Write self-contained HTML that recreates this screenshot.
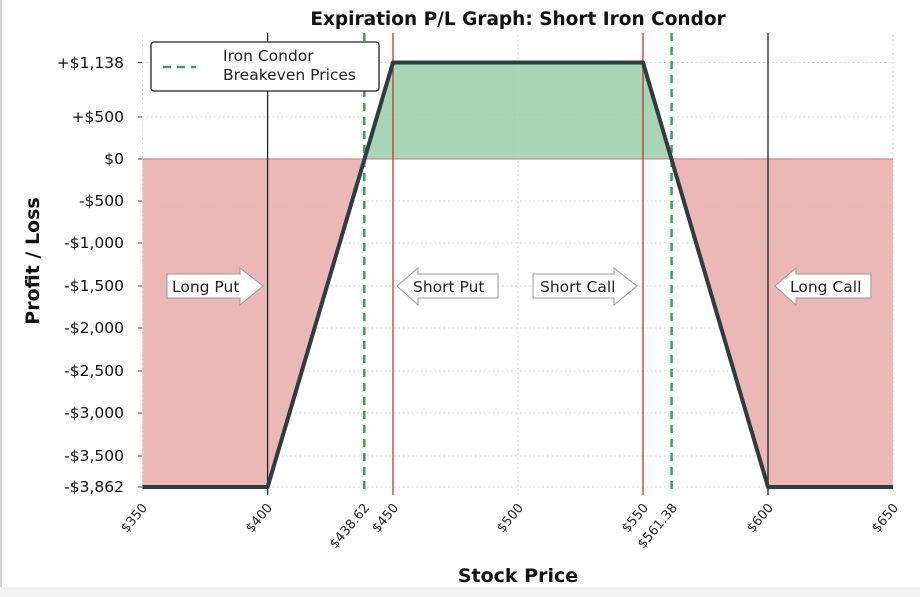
<!DOCTYPE html>
<html><head><meta charset="utf-8"><style>
body{margin:0;background:#fff;}
svg{display:block;font-family:"DejaVu Sans","Liberation Sans",sans-serif;}
</style></head><body>
<svg width="920" height="597" viewBox="0 0 920 597" xmlns="http://www.w3.org/2000/svg">
<rect width="920" height="597" fill="#fff"/>
<rect x="0" y="587" width="920" height="10" fill="#f3f3f3"/>
<line x1="1" y1="0" x2="1" y2="587" stroke="#aaa" stroke-width="1"/>
<polygon points="142.5,159 364.3,159 267.6,487 142.5,487" fill="#ebb8b6"/>
<polygon points="671.6,159 893,159 893,487 768,487" fill="#ebb8b6"/>
<polygon points="364.3,159 393,62.5 643,62.5 671.6,159" fill="#a8d5b5"/>
<g stroke="#ccc" stroke-width="1" stroke-dasharray="1.5,3">
<line x1="142" y1="62.5" x2="893" y2="62.5"/><line x1="142" y1="117" x2="893" y2="117"/>
<line x1="142" y1="201" x2="893" y2="201"/><line x1="142" y1="243" x2="893" y2="243"/>
<line x1="142" y1="286" x2="893" y2="286"/><line x1="142" y1="328" x2="893" y2="328"/>
<line x1="142" y1="371" x2="893" y2="371"/><line x1="142" y1="413" x2="893" y2="413"/>
<line x1="142" y1="456" x2="893" y2="456"/><line x1="142" y1="487" x2="893" y2="487"/>
<line x1="142.5" y1="35" x2="142.5" y2="495"/><line x1="518" y1="35" x2="518" y2="495"/><line x1="893" y1="35" x2="893" y2="495"/>
</g>
<line x1="142" y1="159" x2="893" y2="159" stroke="#c77" stroke-width="1"/>
<line x1="267.6" y1="33" x2="267.6" y2="495" stroke="#222" stroke-width="1.3"/>
<line x1="768" y1="33" x2="768" y2="495" stroke="#222" stroke-width="1.3"/>
<line x1="393" y1="33" x2="393" y2="495" stroke="#c0392b" stroke-width="1.3"/>
<line x1="643" y1="33" x2="643" y2="495" stroke="#c0392b" stroke-width="1.3"/>
<line x1="364.3" y1="33" x2="364.3" y2="495" stroke="#3aa35a" stroke-width="2.5" stroke-dasharray="8,6"/>
<line x1="671.6" y1="33" x2="671.6" y2="495" stroke="#3aa35a" stroke-width="2.5" stroke-dasharray="8,6"/>
<polyline points="142.5,487 267.6,487 393,62.5 643,62.5 768,487 893,487" fill="none" stroke="#2f3c44" stroke-width="4" stroke-linejoin="round"/>
<g stroke="#444" stroke-width="1">
<line x1="138" y1="62.5" x2="142" y2="62.5"/><line x1="138" y1="117" x2="142" y2="117"/><line x1="138" y1="159" x2="142" y2="159"/>
<line x1="138" y1="201" x2="142" y2="201"/><line x1="138" y1="243" x2="142" y2="243"/><line x1="138" y1="286" x2="142" y2="286"/>
<line x1="138" y1="328" x2="142" y2="328"/><line x1="138" y1="371" x2="142" y2="371"/><line x1="138" y1="413" x2="142" y2="413"/>
<line x1="138" y1="456" x2="142" y2="456"/><line x1="138" y1="487" x2="142" y2="487"/>
</g>
<g font-size="15.5" fill="#111" text-anchor="end">
<text x="124" y="68">+$1,138</text><text x="124" y="122">+$500</text><text x="124" y="164">$0</text>
<text x="124" y="206">-$500</text><text x="124" y="248">-$1,000</text><text x="124" y="291">-$1,500</text>
<text x="124" y="333">-$2,000</text><text x="124" y="376">-$2,500</text><text x="124" y="418">-$3,000</text>
<text x="124" y="461">-$3,500</text><text x="124" y="492">-$3,862</text>
</g>
<g font-size="13" fill="#222" text-anchor="end">
<text transform="translate(148,508) rotate(-50)">$350</text>
<text transform="translate(273,508) rotate(-50)">$400</text>
<text transform="translate(370,508) rotate(-50)">$438.62</text>
<text transform="translate(399,508) rotate(-50)">$450</text>
<text transform="translate(524,508) rotate(-50)">$500</text>
<text transform="translate(649,508) rotate(-50)">$550</text>
<text transform="translate(678,508) rotate(-50)">$561.38</text>
<text transform="translate(774,508) rotate(-50)">$600</text>
<text transform="translate(899,508) rotate(-50)">$650</text>
</g>
<text x="518" y="582" font-size="19" font-weight="bold" text-anchor="middle" fill="#111">Stock Price</text>
<text transform="translate(39,261) rotate(-90)" font-size="19" font-weight="bold" text-anchor="middle" fill="#111">Profit / Loss</text>
<text x="518" y="25" font-size="18.5" font-weight="bold" text-anchor="middle" fill="#111">Expiration P/L Graph: Short Iron Condor</text>
<rect x="151" y="42" width="228" height="49" rx="3" fill="#fff" stroke="#222" stroke-width="1.3"/>
<line x1="163" y1="67" x2="196" y2="67" stroke="#3aa35a" stroke-width="2.5" stroke-dasharray="8,6"/>
<text x="223" y="61" font-size="15.5" fill="#222">Iron Condor</text>
<text x="223" y="80" font-size="15.5" fill="#222">Breakeven Prices</text>
<g fill="#fff" stroke="#999" stroke-width="1">
<polygon points="167,274 240,274 240,268 263,286 240,305 240,298 167,298"/>
<polygon points="397,286 418,268 418,274 498,274 498,298 418,298 418,305"/>
<polygon points="533,274 614,274 614,268 637,286 614,305 614,298 533,298"/>
<polygon points="775,286 796,268 796,274 871,274 871,298 796,298 796,305"/>
</g>
<g font-size="15.5" fill="#222">
<text x="172" y="292">Long Put</text>
<text x="413" y="292">Short Put</text>
<text x="540" y="292">Short Call</text>
<text x="790" y="292">Long Call</text>
</g>
</svg>
</body></html>
